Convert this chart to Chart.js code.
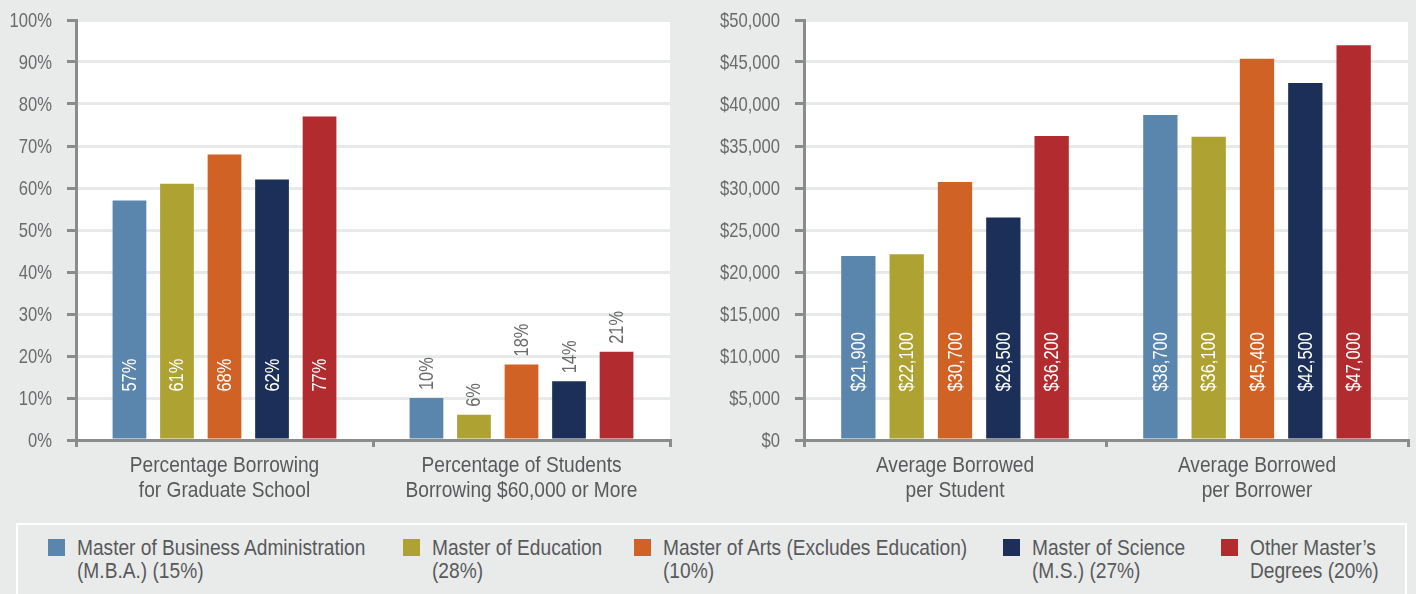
<!DOCTYPE html>
<html><head><meta charset="utf-8">
<script src="https://cdn.jsdelivr.net/npm/chart.js@4.4.1/dist/chart.umd.min.js"></script>
<style>
html,body{margin:0;padding:0;background:#e9ebea;width:1416px;height:594px;overflow:hidden;font-family:'Liberation Sans',Arial,sans-serif;}
canvas{position:absolute;top:0;}
#c1{left:0;}
#c2{left:680px;}
#legendBox{position:absolute;left:16px;top:523px;width:1387px;height:90px;border:2px solid #fff;box-sizing:content-box;}
.sw{position:absolute;width:17px;height:17px;top:539px;}
.tx{position:absolute;top:536px;font-size:22px;line-height:23px;color:#58595b;white-space:nowrap;transform:scaleX(0.87);transform-origin:0 0;}
</style></head>
<body>
<canvas id="c1" width="680" height="515"></canvas>
<canvas id="c2" width="736" height="515"></canvas>
<div id="legendBox"></div>
<div id="legend"></div>
<script>
// ---- data ----
const seriesNames = [
  ["Master of Business Administration", "(M.B.A.) (15%)"],
  ["Master of Education", "(28%)"],
  ["Master of Arts (Excludes Education)", "(10%)"],
  ["Master of Science", "(M.S.) (27%)"],
  ["Other Master\u2019s", "Degrees (20%)"]
];
const seriesColors = ["#5a86ad", "#ada232", "#d06226", "#1c2f58", "#b22b2f"];

const pctCategories = [["Percentage Borrowing", "for Graduate School"], ["Percentage of Students", "Borrowing $60,000 or More"]];
const pctMBA   = [57, 10];
const pctEdu   = [61, 6];
const pctArts  = [68, 18];
const pctSci   = [62, 14];
const pctOther = [77, 21];
const pctTicks = [0, 10, 20, 30, 40, 50, 60, 70, 80, 90, 100];

const amtCategories = [["Average Borrowed", "per Student"], ["Average Borrowed", "per Borrower"]];
const amtMBA   = [21900, 38700];
const amtEdu   = [22100, 36100];
const amtArts  = [30700, 45400];
const amtSci   = [26500, 42500];
const amtOther = [36200, 47000];
const amtTicks = [0, 5000, 10000, 15000, 20000, 25000, 30000, 35000, 40000, 45000, 50000];

// ---- helpers ----
const FONT = "'Liberation Sans',Arial,sans-serif";
const AXIS = '#8a8c8b', GRID = '#e8eaea';
const fmtPct = v => v + '%';
const fmtAmt = v => '$' + v.toLocaleString('en-US');

function drawScaled(ctx, text, x, y, align, sx) {
  ctx.save();
  ctx.translate(x, y);
  ctx.scale(sx, 1);
  ctx.textAlign = align;
  ctx.fillText(text, 0, 0);
  ctx.restore();
}

const chartBg = {
  id: 'chartBg',
  beforeDraw(chart) {
    const {ctx, chartArea: a} = chart;
    ctx.save(); ctx.fillStyle = '#fff';
    ctx.fillRect(a.left, a.top, a.right - a.left, a.bottom - a.top);
    ctx.restore();
  }
};

function textPlugin(fmt, inside) {
  return {
    id: 'chartText',
    afterDraw(chart) {
      const ctx = chart.ctx;
      const xs = chart.scales.x, ys = chart.scales.y;
      // bar value labels
      chart.data.datasets.forEach((ds, di) => {
        chart.getDatasetMeta(di).data.forEach((bar, i) => {
          ctx.save();
          ctx.font = '20px ' + FONT;
          let y;
          if (inside[i]) { y = bar.base - 47; ctx.fillStyle = '#ffffff'; }
          else { y = bar.y - 8; ctx.fillStyle = '#6a6b6d'; }
          ctx.translate(bar.x, y);
          ctx.rotate(-Math.PI / 2);
          ctx.textBaseline = 'middle';
          drawScaled(ctx, fmt(ds.data[i]), 0, 1, 'left', 0.82);
          ctx.restore();
        });
      });
      // y tick labels
      ctx.save();
      ctx.fillStyle = '#6a6b6d'; ctx.font = '21px ' + FONT; ctx.textBaseline = 'middle';
      ys.ticks.forEach((t, i) => drawScaled(ctx, fmt(t.value), ys.right - 24, ys.getPixelForTick(i) + 1, 'right', 0.79));
      // x category labels
      ctx.fillStyle = '#58595b'; ctx.font = '22px ' + FONT; ctx.textBaseline = 'alphabetic';
      xs.ticks.forEach((t, i) => {
        const x = xs.getPixelForTick(i);
        chart.data.labels[i].forEach((ln, j) => drawScaled(ctx, ln, x, xs.top + 32 + j * 25, 'center', 0.87));
      });
      ctx.restore();
    }
  };
}

function makeChart(id, categories, series, ticks, fmt, inside, yWidth, padRight) {
  const datasets = series.map((d, k) => ({
    label: seriesNames[k].join(' '),
    data: d,
    backgroundColor: seriesColors[k],
    borderWidth: 0,
    categoryPercentage: 0.8,
    barPercentage: 0.71
  }));
  return new Chart(document.getElementById(id), {
    type: 'bar',
    data: {labels: categories, datasets},
    plugins: [chartBg, textPlugin(fmt, inside)],
    options: {
      responsive: false,
      animation: false,
      devicePixelRatio: 1,
      layout: {padding: {top: 20, right: padRight, left: 0, bottom: 0}},
      plugins: {legend: {display: false}, tooltip: {enabled: false}},
      scales: {
        x: {
          grid: {display: true, offset: true, drawOnChartArea: false, drawTicks: true, tickLength: 7, color: AXIS, lineWidth: 3},
          border: {display: true, color: AXIS, width: 3},
          ticks: {display: false, autoSkip: false, maxRotation: 0},
          afterFit(s) { s.height = 75; }
        },
        y: {
          min: ticks[0], max: ticks[ticks.length - 1],
          afterBuildTicks(s) { s.ticks = ticks.map(v => ({value: v})); },
          grid: {
            color: c => (c.tick && c.tick.value === 0) ? AXIS : GRID,
            lineWidth: 3, tickColor: AXIS, tickLength: 9, tickWidth: 3
          },
          border: {display: true, color: AXIS, width: 3},
          ticks: {display: false},
          afterFit(s) { s.width = yWidth; }
        }
      }
    }
  });
}

makeChart('c1', pctCategories, [pctMBA, pctEdu, pctArts, pctSci, pctOther], pctTicks, fmtPct, [true, false], 76, 10);
makeChart('c2', amtCategories, [amtMBA, amtEdu, amtArts, amtSci, amtOther], amtTicks, fmtAmt, [true, true], 124, 8);

// ---- legend ----
const legendX = [48, 403, 634, 1003, 1221];
const lg = document.getElementById('legend');
seriesNames.forEach((lines, k) => {
  const sw = document.createElement('div');
  sw.className = 'sw'; sw.style.left = legendX[k] + 'px'; sw.style.background = seriesColors[k];
  const tx = document.createElement('div');
  tx.className = 'tx'; tx.style.left = (legendX[k] + 29) + 'px';
  lines.forEach((t, j) => { if (j) tx.appendChild(document.createElement('br')); tx.appendChild(document.createTextNode(t)); });
  lg.appendChild(sw); lg.appendChild(tx);
});
</script>
</body></html>
